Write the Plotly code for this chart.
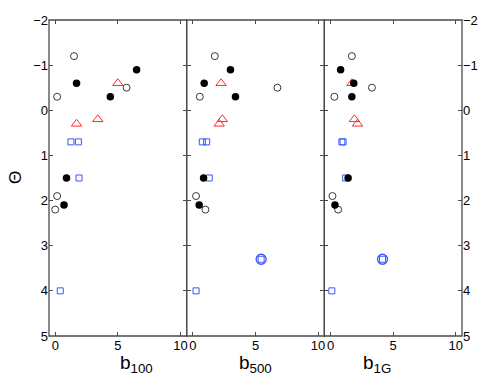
import plotly.graph_objects as go

# y values (Theta) per marker group
y_filled = [-0.9, -0.6, -0.3, 1.5, 2.1]
y_open = [-1.2, -0.5, -0.3, 1.9, 2.2]
y_tri = [-0.6, 0.2, 0.3]
y_sq = [0.7, 0.7, 1.5, 4.0]
y_ring = [3.3]

# x values per panel (b100, b500, b1G)
x_filled = [[6.5, 1.7, 4.4, 0.9, 0.7],
            [3.0, 0.9, 3.4, 0.85, 0.5],
            [0.8, 1.85, 1.7, 1.4, 0.35]]
x_open = [[1.5, 5.7, 0.15, 0.15, 0.0],
          [1.75, 6.75, 0.55, 0.25, 1.0],
          [1.7, 3.3, 0.3, 0.15, 0.6]]
x_tri = [[5.0, 3.4, 1.7],
         [2.25, 2.35, 2.1],
         [1.7, 1.9, 2.15]]
x_sq = [[1.25, 1.85, 1.9, 0.4],
        [0.75, 1.1, 1.3, 0.25],
        [0.9, 1.0, 1.2, 0.1]]
x_ring = [[], [5.45], [4.15]]

x_titles = ["b<sub>100</sub>", "b<sub>500</sub>", "b<sub>1G</sub>"]
y_ticks = [-2, -1, 0, 1, 2, 3, 4, 5]
x_ticks = [0, 5, 10]

FONT = "Liberation Sans, Arial, sans-serif"
BLUE = "#3a55ff"
RED = "#ff2a2a"
AX = "#4a4a4a"

fig = go.Figure()
for i in range(3):
    xa = "x" if i == 0 else f"x{i + 1}"
    ya = "y" if i == 0 else f"y{i + 1}"
    common = dict(xaxis=xa, yaxis=ya, mode="markers", showlegend=False, hoverinfo="skip", cliponaxis=False)
    fig.add_trace(go.Scatter(x=x_sq[i], y=y_sq, marker=dict(symbol="square-open", size=6, color=BLUE,
                                                          line=dict(width=1, color=BLUE)), **common))
    fig.add_trace(go.Scatter(x=x_ring[i], y=y_ring[:len(x_ring[i])],
                             marker=dict(symbol="circle-open", size=10, color=BLUE,
                                         line=dict(width=1.3, color=BLUE)), **common))
    fig.add_trace(go.Scatter(x=x_ring[i], y=y_ring[:len(x_ring[i])],
                             marker=dict(symbol="square-open", size=6, color=BLUE,
                                         line=dict(width=1, color=BLUE)), **common))
    fig.add_trace(go.Scatter(x=x_tri[i], y=y_tri, marker=dict(symbol="triangle-up-open", size=9, color=RED,
                                                            line=dict(width=1, color=RED)), **common))
    fig.add_trace(go.Scatter(x=x_open[i], y=y_open, marker=dict(symbol="circle-open", size=7, color="#222",
                                                              line=dict(width=0.9, color="#222")), **common))
    fig.add_trace(go.Scatter(x=x_filled[i], y=y_filled, marker=dict(symbol="circle", size=7.5, color="black",
                                                                  line=dict(width=0)), **common))

doms = [[0, 1 / 3], [1 / 3, 2 / 3], [2 / 3, 1]]
annotations = []
shapes = []
for i in range(3):
    kx = "xaxis" if i == 0 else f"xaxis{i + 1}"
    ky = "yaxis" if i == 0 else f"yaxis{i + 1}"
    xa = "x" if i == 0 else f"x{i + 1}"
    ya = "y" if i == 0 else f"y{i + 1}"
    fig.layout[kx] = dict(domain=doms[i], range=[-0.5, 10.5], tickvals=x_ticks, ticks="inside", ticklen=4,
                          tickcolor=AX, showline=False, mirror="allticks",
                          showgrid=False, zeroline=False, anchor=ya,
                          automargin=False, tickfont=dict(size=13, color="black"))
    yd = dict(domain=[0, 1], range=[5, -2], tickvals=y_ticks, ticks="inside", ticklen=4, tickcolor=AX,
              showline=False, mirror="allticks", showgrid=False, zeroline=False,
              anchor=xa, automargin=False, tickfont=dict(size=13, color="black"))
    if i == 1:
        yd["showticklabels"] = False
    if i == 2:
        yd["side"] = "right"
    fig.layout[ky] = yd
    shapes.append(dict(type="rect", xref="paper", yref="paper", x0=doms[i][0], x1=doms[i][1], y0=0, y1=1,
                       line=dict(color=AX, width=1.3), layer="above"))
    annotations.append(dict(text=x_titles[i], xref="paper", yref="paper", x=(doms[i][0] + doms[i][1]) / 2,
                            y=0, yshift=-14, yanchor="top", showarrow=False,
                            font=dict(size=19, color="black")))

annotations.append(dict(text="Θ", xref="paper", yref="paper", x=0, xshift=-34, y=0.5, textangle=-90,
                        xanchor="center", showarrow=False, font=dict(size=17, color="black")))

fig.update_layout(width=491, height=375, margin=dict(l=49, r=29, t=20, b=39),
                  paper_bgcolor="white", plot_bgcolor="white", font=dict(family=FONT, color="black"),
                  annotations=annotations, shapes=shapes)
fig.write_html("out.html", config={"displayModeBar": False},
               post_script="document.body.style.margin='0';")
